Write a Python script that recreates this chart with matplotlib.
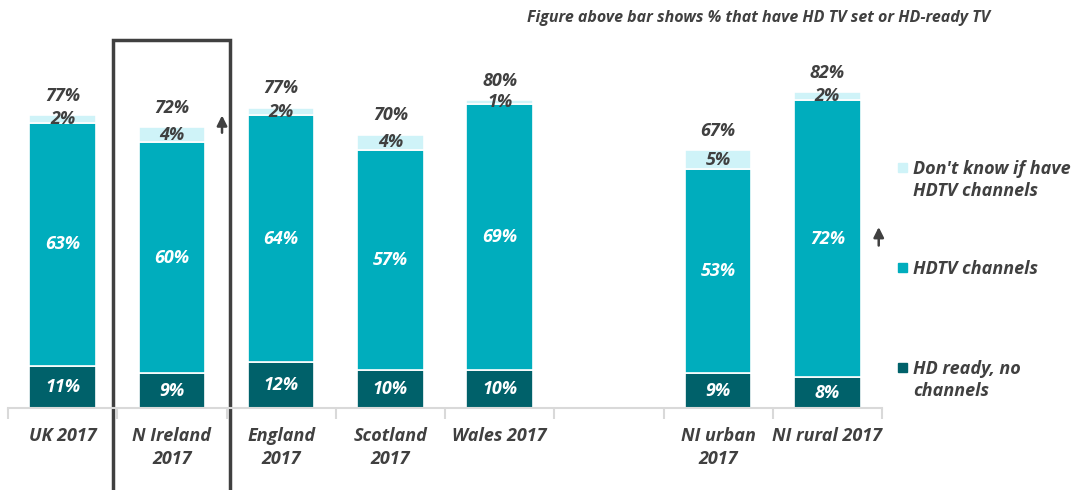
import numpy as np
import matplotlib.pyplot as plt
from matplotlib.patches import Rectangle

plt.rcParams['font.family'] = ['Open Sans', 'DejaVu Sans']

categories = ['UK 2017', 'N Ireland\n2017', 'England\n2017', 'Scotland\n2017',
              'Wales 2017', 'NI urban\n2017', 'NI rural 2017']
slots = [0, 1, 2, 3, 4, 6, 7]          # empty slot between Wales and NI urban
hd_ready = [11, 9, 12, 10, 10, 9, 8]
hdtv = [63, 60, 64, 57, 69, 53, 72]
dont_know = [2, 4, 2, 4, 1, 5, 2]
total = [77, 72, 77, 70, 80, 67, 82]

c_dark = '#00616A'
c_mid = '#00ADBD'
c_light = '#CFF3F8'
c_text = '#404040'

fig = plt.figure(figsize=(10.72, 4.9), dpi=100)
W, H = 1072, 490
x0, x1, ybase = 8, 882, 408
pxper = 3.85
ax = fig.add_axes([x0 / W, 1 - ybase / H, (x1 - x0) / W, 100 * pxper / H])
ax.set_xlim(-0.5, 7.5)
ax.set_ylim(0, 100)

x = np.array(slots)
w = 0.61
b1 = np.array(hd_ready)
b2 = b1 + np.array(hdtv)
ax.bar(x, hd_ready, w, color=c_dark, edgecolor='white', linewidth=1.2)
ax.bar(x, hdtv, w, bottom=b1, color=c_mid, edgecolor='white', linewidth=1.2)
ax.bar(x, dont_know, w, bottom=b2, color=c_light, edgecolor='white', linewidth=1.2)

fs = 13
lab = dict(fontsize=fs, fontweight='bold', fontstyle='italic', ha='center', va='center')
for xi, a, b, c, t in zip(x, hd_ready, hdtv, dont_know, total):
    ax.text(xi, a / 2, f'{a}%', color='white', **lab)
    ax.text(xi, a + b / 2, f'{b}%', color='white', **lab)
    ax.text(xi, a + b + c / 2, f'{c}%', color=c_text, **lab)
    ax.annotate(f'{t}%', (xi, a + b + c), xytext=(0, 14), textcoords='offset points',
                color=c_text, **lab)

# axis styling
for s in ['top', 'right', 'left']:
    ax.spines[s].set_visible(False)
ax.spines['bottom'].set_color('#d9d9d9')
ax.spines['bottom'].set_linewidth(1.5)
ax.set_yticks([])
ax.set_xticks(x)
ax.set_xticklabels(categories, fontsize=fs, fontweight='bold', fontstyle='italic',
                   color=c_text, linespacing=1.3)
ax.tick_params(axis='x', which='major', length=0, pad=14)
ax.set_xticks(np.arange(-0.5, 8, 1), minor=True)
ax.tick_params(axis='x', which='minor', length=8, width=1.5, color='#d9d9d9')

# box around N Ireland
ax.add_patch(Rectangle((1 - 0.535, -30), 1.07, 95.6 + 30, fill=False,
                       edgecolor='#404040', linewidth=2.5, clip_on=False))

# up arrows
arrow = dict(arrowstyle='-|>', color='#404040', lw=1.8, mutation_scale=15,
             shrinkA=0, shrinkB=0)
ax.annotate('', xy=(1.459, 76.0), xytext=(1.459, 71.5), arrowprops=arrow,
            annotation_clip=False)
ax.annotate('', xy=(7.47, 47.0), xytext=(7.47, 42.2), arrowprops=arrow,
            annotation_clip=False)

# legend
legend_items = [(c_light, "Don't know if have\nHDTV channels", 163),
                (c_mid, 'HDTV channels', 263),
                (c_dark, 'HD ready, no\nchannels', 363)]
for col, txt, ytop in legend_items:
    fig.patches.append(Rectangle((898 / W, 1 - (ytop + 9) / H), 9 / W, 9 / H,
                                 transform=fig.transFigure, color=col))
    fig.text(913 / W, 1 - (ytop - 3) / H, txt, fontsize=fs, fontweight='bold',
             fontstyle='italic', color=c_text, va='top', ha='left', linespacing=1.3)

fig.text(990 / W, 1 - 18 / H, 'Figure above bar shows % that have HD TV set or HD-ready TV',
         fontsize=11.5, fontweight='bold', fontstyle='italic', color=c_text,
         ha='right', va='center')

fig.savefig('out.png', dpi=100)
